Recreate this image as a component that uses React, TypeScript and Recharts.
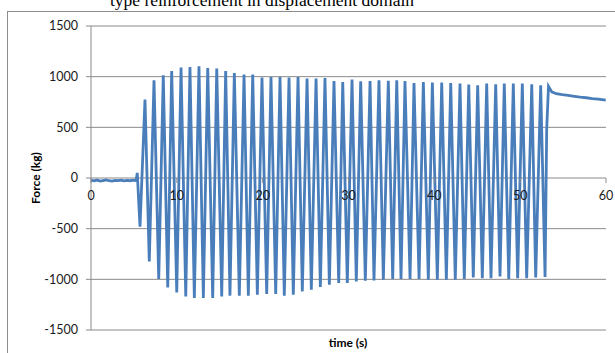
import React from 'react';
import { LineChart, Line, XAxis, YAxis, CartesianGrid } from 'recharts';

// ---- data ----
const flatTimes = [0, 0.35, 0.7, 1.05, 1.4, 1.75, 2.1, 2.45, 2.8, 3.15, 3.5, 3.85, 4.2, 4.55, 4.9, 5.25, 5.39];
const flatForces = [-22, -28, -20, -31, -25, -19, -27, -30, -23, -26, -21, -29, -24, -27, -22, -26, 50];

const troughTimes = [
  5.71, 6.79, 7.89, 8.94, 9.99, 11.04, 12.04, 13.09, 14.18, 15.23, 16.19, 17.28, 18.33, 19.38, 20.47, 21.52,
  22.52, 23.57, 24.62, 25.67, 26.72, 27.77, 28.86, 29.86, 30.91, 31.96, 32.97, 34.06, 35.15, 36.12, 37.17,
  38.22, 39.3, 40.35, 41.4, 42.44, 43.49, 44.54, 45.59, 46.6, 47.65, 48.67, 49.71, 50.76, 51.81, 52.9,
];
const troughForces = [
  -480, -824, -997, -1080, -1129, -1168, -1184, -1184, -1184, -1168, -1161, -1161, -1161, -1152, -1145, -1145,
  -1161, -1152, -1119, -1102, -1076, -1053, -1037, -1037, -1021, -1014, -1011, -1004, -997, -997, -997,
  -997, -1004, -1004, -1004, -1004, -997, -981, -988, -988, -971, -997, -988, -988, -981, -977,
];

const peakTimes = [
  6.29, 7.34, 8.42, 9.4, 10.49, 11.53, 12.58, 13.6, 14.65, 15.69, 16.7, 17.83, 18.84, 19.92, 20.97, 22.02,
  23.07, 24.12, 25.17, 26.22, 27.26, 28.31, 29.33, 30.41, 31.42, 32.51, 33.55, 34.64, 35.62, 36.58, 37.63,
  38.72, 39.77, 40.86, 41.91, 42.99, 44.01, 45.05, 46.1, 47.15, 48.15, 49.2, 50.25, 51.35, 52.39,
];
const peakForces = [
  775, 965, 1014, 1056, 1090, 1095, 1102, 1086, 1080, 1056, 1036, 1021, 1021, 991, 997, 997,
  991, 997, 981, 981, 987, 958, 948, 971, 955, 958, 965, 960, 965, 958, 938,
  948, 942, 942, 938, 932, 922, 915, 932, 925, 932, 932, 932, 925, 915,
];

const tailTimes = [53.09, 53.3, 53.68, 54.2, 54.9, 55.6, 56.3, 57.0, 57.7, 58.4, 59.1, 59.97];
const tailForces = [480, 905, 850, 832, 822, 815, 806, 798, 792, 784, 779, 768];

const xTicks = [0, 10, 20, 30, 40, 50, 60];
const yTicks = [-1500, -1000, -500, 0, 500, 1000, 1500];

const titleText = 'type reinforcement in displacement domain';
const xTitle = 'time (s)';
const yTitle = 'Force (kg)';

// ---- build table ----
type Pt = { t: number; f: number };
const data: Pt[] = [];
flatTimes.forEach((t, i) => data.push({ t, f: flatForces[i] }));
troughTimes.forEach((t, i) => {
  data.push({ t, f: troughForces[i] });
  if (i < peakTimes.length) data.push({ t: peakTimes[i], f: peakForces[i] });
});
tailTimes.forEach((t, i) => data.push({ t, f: tailForces[i] }));

// ---- layout ----
const W = 615;
const H = 353;
const PLOT_TOP = 26;
const X_AXIS_H = 23;
const PLOT_BOTTOM = H - X_AXIS_H;
const Y_MIN = -1500;
const Y_MAX = 1500;
const Y0 = PLOT_TOP + ((PLOT_BOTTOM - PLOT_TOP) * (Y_MAX - 0)) / (Y_MAX - Y_MIN);
const GRID = '#8a8a8a';
const FONT = 'Lato, "Open Sans", sans-serif';
const TICK_COLOR = '#1a1a1a';

const XTick = (props: any) => {
  const { x, payload } = props;
  return (
    <g>
      <line x1={x} x2={x} y1={Y0} y2={Y0 + 5} stroke={GRID} />
      <text x={x} y={Y0 + 22} textAnchor="middle" fontSize={12.5} fontFamily={FONT} fill={TICK_COLOR}>
        {payload.value}
      </text>
    </g>
  );
};

export default function App() {
  return (
    <div style={{ position: 'absolute', left: 0, top: 0, width: W, height: H, background: '#fff', overflow: 'hidden' }}>
      <div
        style={{
          position: 'absolute', left: 7, top: 11, width: W, height: H,
          borderLeft: '1px solid #8c8c8c', borderTop: '1px solid #8c8c8c',
        }}
      />
      <svg width={W} height={H} style={{ position: 'absolute', left: 0, top: 0 }}>
        <text x={262} y={6} textAnchor="middle" fontFamily='"Liberation Serif", "Times New Roman", serif' fontSize={17.5} fill="#000">
          {titleText}
        </text>
        <text
          x={0} y={0}
          transform={`translate(39.5,178) rotate(-90)`}
          textAnchor="middle" fontFamily={FONT} fontWeight="bold" fontSize={12} fill="#000"
        >
          {yTitle}
        </text>
        <text x={348} y={347} textAnchor="middle" fontFamily={FONT} fontWeight="bold" fontSize={12} fill="#000">
          {xTitle}
        </text>
      </svg>
      <div style={{ position: 'absolute', left: 0, top: 0 }}>
        <LineChart width={W} height={H} data={data} margin={{ top: PLOT_TOP, right: 9, bottom: 0, left: 0 }}>
          <CartesianGrid vertical={false} stroke={GRID} strokeDasharray="" horizontalValues={yTicks} />
          <YAxis
            type="number"
            dataKey="f"
            domain={[Y_MIN, Y_MAX]}
            ticks={yTicks}
            width={91}
            tickSize={5}
            tickMargin={8}
            axisLine={{ stroke: GRID }}
            tickLine={{ stroke: GRID }}
            tick={{ fontSize: 12.5, fontFamily: FONT, fill: TICK_COLOR }}
            interval={0}
          />
          <Line
            type="linear"
            dataKey="f"
            stroke="#4A7EBB"
            strokeWidth={2.8}
            dot={false}
            isAnimationActive={false}
          />
          <XAxis
            type="number"
            dataKey="t"
            domain={[0, 60]}
            ticks={xTicks}
            height={X_AXIS_H}
            axisLine={false}
            tickLine={false}
            tick={<XTick />}
            interval={0}
          />
        </LineChart>
      </div>
    </div>
  );
}
